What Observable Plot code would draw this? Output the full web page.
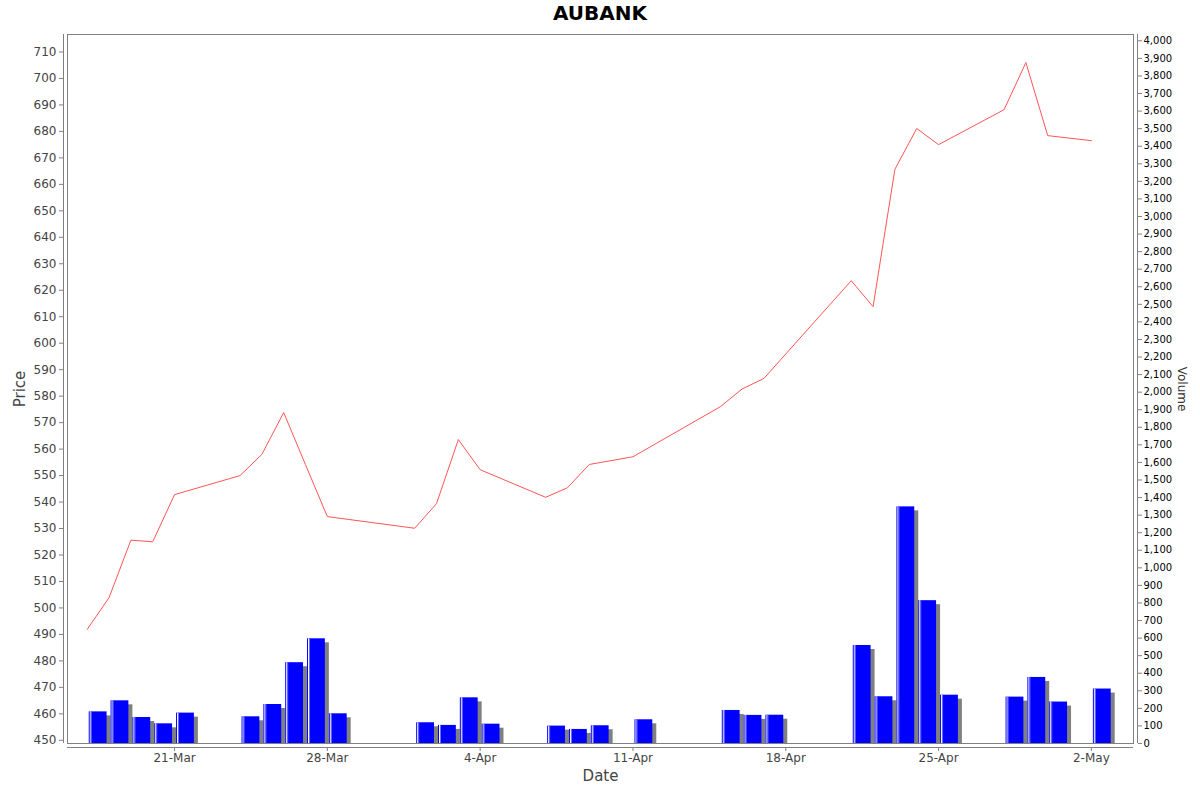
<!DOCTYPE html>
<html>
<head>
<meta charset="utf-8">
<script src="https://cdn.jsdelivr.net/npm/d3@7"></script>
<script src="https://cdn.jsdelivr.net/npm/@observablehq/plot@0.6"></script>
<style>
  html, body { margin: 0; padding: 0; background: #fff; font-family: "DejaVu Sans", sans-serif; }
  #title { height: 24px; line-height: 26px; text-align: center; font-weight: bold; font-size: 20px; color: #000; }
  #chart { position: relative; width: 1200px; height: 768px; }
  #chart svg { position: absolute; left: 0; top: 0; }
</style>
</head>
<body>
<div id="title">AUBANK</div>
<div id="chart"></div>
<script>
// ---- data ----
const dates = ["2025-03-17","2025-03-18","2025-03-19","2025-03-20","2025-03-21",
  "2025-03-24","2025-03-25","2025-03-26","2025-03-27","2025-03-28",
  "2025-04-01","2025-04-02","2025-04-03","2025-04-04",
  "2025-04-07","2025-04-08","2025-04-09","2025-04-11",
  "2025-04-15","2025-04-16","2025-04-17",
  "2025-04-21","2025-04-22","2025-04-23","2025-04-24","2025-04-25",
  "2025-04-28","2025-04-29","2025-04-30","2025-05-02"];
const prices = [491.9, 503.9, 525.6, 525.0, 542.8,
  550.0, 558.0, 573.8, 554.1, 534.5,
  530.1, 539.4, 563.6, 552.2,
  541.8, 545.4, 554.2, 557.1,
  576.0, 582.7, 586.7,
  623.6, 613.8, 665.7, 681.1, 675.0,
  688.2, 706.0, 678.4, 676.5];
const volumes = [180, 243, 148, 112, 173,
  152, 222, 460, 596, 169,
  118, 103, 260, 110,
  99, 80, 101, 135,
  188, 160, 161,
  558, 266, 1347, 813, 275,
  264, 376, 236, 310];
const dateTicks = ["2025-03-21","2025-03-28","2025-04-04","2025-04-11","2025-04-18","2025-04-25","2025-05-02"];
const priceTicks = d3.range(450, 711, 10);
const volumeTicks = d3.range(0, 4001, 100);
const xDomain = ["2025-03-16T02:18Z", "2025-05-03T22:19Z"];
const priceDomain = [448.8, 716.6];
const volumeDomain = [0, 4036];

// ---- derived table ----
const rows = dates.map((d, i) => ({date: new Date(d + "T00:00Z"), price: prices[i], volume: volumes[i]}));
const xDom = xDomain.map(d => new Date(d));
const xTicks = dateTicks.map(d => new Date(d + "T00:00Z"));

const W = 1200, H = 768;
const margins = {marginTop: 10, marginBottom: 49, marginLeft: 67, marginRight: 67};
const style = {fontFamily: "DejaVu Sans", background: "transparent", overflow: "visible"};

const volPlot = Plot.plot({
  width: W, height: H, ...margins, style,
  x: {type: "utc", domain: xDom, axis: null},
  y: {domain: volumeDomain, axis: null},
  marks: [
    Plot.rect(rows, {x1: "date", x2: d => d3.utcDay.offset(d.date, 1), y1: 0, y2: "volume",
      fill: "#808080", insetLeft: 2, insetRight: 2, dx: 4, dy: 4, clip: true}),
    Plot.rect(rows, {x1: "date", x2: d => d3.utcDay.offset(d.date, 1), y1: 0, y2: "volume",
      fill: "#0000ff", insetLeft: 2, insetRight: 2}),
    Plot.ruleX(rows, {x: "date", y1: 0, y2: "volume", dx: 3, stroke: "#ffffff", strokeWidth: 1}),
    Plot.ruleX(rows, {x: "date", y1: 0, y2: "volume", dx: 4, stroke: "#7070ff", strokeWidth: 1}),
    Plot.axisY({anchor: "right", ticks: volumeTicks, tickFormat: d3.format(","), label: null,
      dx: 4, tickSize: 4, tickPadding: 2, fontSize: 10, stroke: "#808080", fill: "#000"}),
    Plot.ruleX([xDom[1]], {dx: 4, stroke: "#808080"}),
    Plot.text(["Volume"], {frameAnchor: "right", textAnchor: "middle", lineAnchor: "middle",
      dx: 48, rotate: 90, fontSize: 12, fill: "#333"})
  ]
});

const pricePlot = Plot.plot({
  width: W, height: H, ...margins, style,
  x: {type: "utc", domain: xDom},
  y: {domain: priceDomain},
  marks: [
    Plot.frame({stroke: "#808080"}),
    Plot.line(rows, {x: "date", y: "price", stroke: "#ff5555", strokeWidth: 1}),
    Plot.axisY({anchor: "left", ticks: priceTicks, label: null, dx: -4, tickSize: 4, tickPadding: 3,
      fontSize: 12, stroke: "#808080", fill: "#444"}),
    Plot.ruleX([xDom[0]], {dx: -4, stroke: "#808080"}),
    Plot.axisX({ticks: xTicks, tickFormat: d3.utcFormat("%-d-%b"), label: null, dy: 4, tickSize: 4,
      tickPadding: 2, fontSize: 12, stroke: "#808080", fill: "#444"}),
    Plot.ruleY([priceDomain[0]], {dy: 4, stroke: "#808080"}),
    Plot.text(["Price"], {frameAnchor: "left", textAnchor: "middle", lineAnchor: "middle",
      dx: -47, rotate: -90, fontSize: 15, fill: "#444"}),
    Plot.text(["Date"], {frameAnchor: "bottom", textAnchor: "middle", lineAnchor: "middle",
      dy: 33, fontSize: 15, fill: "#444"})
  ]
});

const chart = document.getElementById("chart");
chart.appendChild(volPlot);
chart.appendChild(pricePlot);
</script>
</body>
</html>
